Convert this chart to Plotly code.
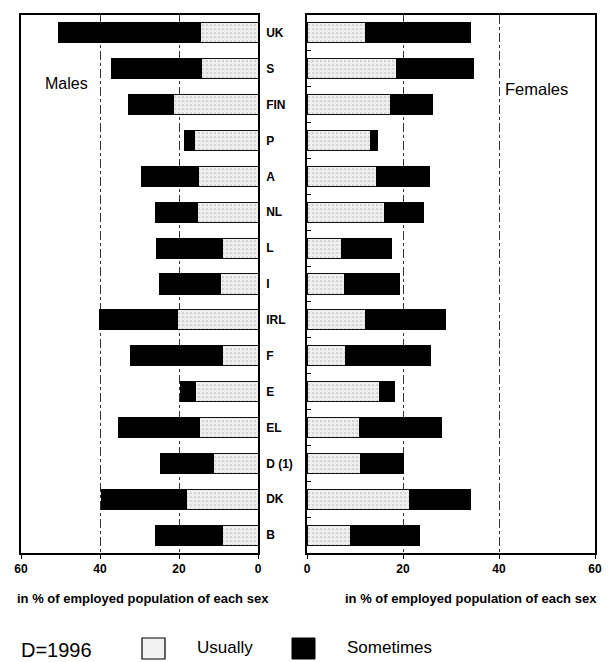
import plotly.graph_objects as go

countries = ["UK", "S", "FIN", "P", "A", "NL", "L", "I", "IRL", "F", "E", "EL", "D (1)", "DK", "B"]
male_usually = [14.5, 14.2, 21.5, 16.0, 15.0, 15.2, 8.9, 9.4, 20.4, 9.0, 15.8, 14.9, 11.2, 18.1, 8.9]
male_sometimes = [36.0, 23.0, 11.2, 2.5, 14.6, 10.8, 16.9, 15.6, 19.7, 23.4, 3.9, 20.5, 13.6, 21.5, 17.1]
female_usually = [12.1, 18.7, 17.3, 13.2, 14.5, 16.1, 7.2, 7.9, 12.2, 8.1, 15.0, 11.0, 11.1, 21.4, 9.1]
female_sometimes = [22.0, 16.0, 8.9, 1.4, 11.0, 8.1, 10.5, 11.4, 16.7, 17.6, 3.3, 17.1, 8.9, 12.6, 14.3]
x_ticks = [0, 20, 40, 60]

W, H = 614, 662
FONT = "Liberation Sans, Arial, sans-serif"

usual_marker = dict(color="#eeeeee", line=dict(color="#111111", width=1),
                    pattern=dict(shape=".", fgcolor="#8a8a8a", bgcolor="#eeeeee", size=4, solidity=0.15))
some_marker = dict(color="#000000", line=dict(color="#000000", width=1))

fig = go.Figure()
fig.add_trace(go.Bar(y=countries, x=male_usually, orientation="h", marker=usual_marker,
                     xaxis="x", yaxis="y", showlegend=False, name="Usually"))
fig.add_trace(go.Bar(y=countries, x=male_sometimes, orientation="h", marker=some_marker,
                     xaxis="x", yaxis="y", showlegend=False, name="Sometimes"))
fig.add_trace(go.Bar(y=countries, x=female_usually, orientation="h", marker=usual_marker,
                     xaxis="x2", yaxis="y2", showlegend=False, name="Usually"))
fig.add_trace(go.Bar(y=countries, x=female_sometimes, orientation="h", marker=some_marker,
                     xaxis="x2", yaxis="y2", showlegend=False, name="Sometimes"))

ydom = [1 - 553 / H, 1 - 15 / H]
axis_common = dict(showline=True, linecolor="#000", linewidth=1.5, mirror=True,
                   ticks="outside", ticklen=4, tickcolor="#000", automargin=False,
                   tickfont=dict(family=FONT, size=12, color="#000", weight="bold"),
                   showgrid=True, gridcolor="#333", griddash="dashdot", gridwidth=1,
                   tickvals=x_ticks, zeroline=False, fixedrange=True)
yaxis_common = dict(domain=ydom, type="category", categoryorder="array",
                    categoryarray=countries, autorange="reversed", automargin=False,
                    showline=True, linecolor="#000", linewidth=1.5, mirror=True,
                    showgrid=False, zeroline=False, fixedrange=True)

fig.update_layout(
    width=W, height=H, margin=dict(l=0, r=0, t=0, b=0),
    paper_bgcolor="white", plot_bgcolor="white",
    barmode="stack", bargap=0.44,
    font=dict(family=FONT, color="#000"),
    xaxis=dict(domain=[21 / W, 258 / W], range=[60, 0], anchor="y", **axis_common),
    xaxis2=dict(domain=[307 / W, 595 / W], range=[0, 60], anchor="y2", **axis_common),
    yaxis=dict(anchor="x", side="right", ticks="", ticklabelstandoff=4,
               tickfont=dict(family=FONT, size=12, color="#000", weight="bold"), **yaxis_common),
    yaxis2=dict(anchor="x2", showticklabels=False, ticks="inside", tickson="boundaries",
                ticklen=4, tickcolor="#000", **yaxis_common),
)

annotations = [
    dict(text="Males", x=43 / W, y=1 - 83 / H, xanchor="left", yanchor="middle",
         font=dict(size=16, family=FONT)),
    dict(text="Females", x=503 / W, y=1 - 89 / H, xanchor="left", yanchor="middle",
         font=dict(size=16.5, family=FONT)),
    dict(text="in % of employed population of each sex", x=143 / W, y=1 - 598 / H,
         xanchor="center", yanchor="middle", font=dict(size=13, family=FONT, weight="bold")),
    dict(text="in % of employed population of each sex", x=471 / W, y=1 - 598 / H,
         xanchor="center", yanchor="middle", font=dict(size=13, family=FONT, weight="bold")),
    dict(text="D=1996", x=19 / W, y=1 - 650 / H, xanchor="left", yanchor="middle",
         font=dict(size=20, family=FONT)),
    dict(text="Usually", x=195 / W, y=1 - 647 / H, xanchor="left", yanchor="middle",
         font=dict(size=17, family=FONT)),
    dict(text="Sometimes", x=345 / W, y=1 - 647 / H, xanchor="left", yanchor="middle",
         font=dict(size=17, family=FONT)),
]
for a in annotations:
    a.update(xref="paper", yref="paper", showarrow=False)
fig.update_layout(annotations=annotations)

fig.add_shape(type="rect", xref="paper", yref="paper",
              x0=142 / W, x1=165 / W, y0=1 - 659 / H, y1=1 - 638 / H,
              line=dict(color="#000", width=1.2), fillcolor="#f2f2f2")
fig.add_shape(type="rect", xref="paper", yref="paper",
              x0=292 / W, x1=315 / W, y0=1 - 659 / H, y1=1 - 638 / H,
              line=dict(color="#000", width=1), fillcolor="#000")

fig.write_html(
    "out.html",
    config={"displayModeBar": False},
    post_script="document.body.style.margin='0';document.body.style.overflow='hidden';",
)
